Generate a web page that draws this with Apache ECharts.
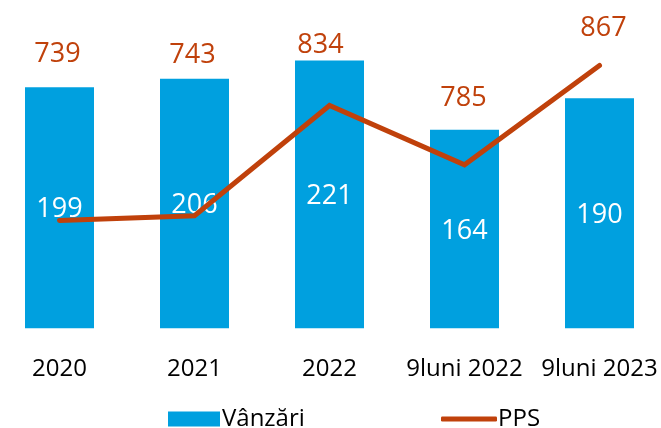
<!DOCTYPE html>
<html>
<head>
<meta charset="utf-8">
<script src="https://cdn.jsdelivr.net/npm/echarts@6/dist/echarts.min.js"></script>
<style>
  html, body { margin: 0; padding: 0; background: #fff; overflow: hidden; }
  /* the Excel plot area runs a few px past both edges of the picture */
  #chart { width: 675px; height: 428px; margin-left: -8px; }
</style>
</head>
<body>
<div id="chart"></div>
<script>
// data
const categories = ['2020', '2021', '2022', '9luni 2022', '9luni 2023']
const vanzari = [199, 206, 221, 164, 190]
const pps = [739, 743, 834, 785, 867]

// PPS labels were dragged around by hand in the original, so nudge each one
const ppsLabelOffsets = [[-2, -166], [-2, -160], [-9, -60], [-1, -66], [4, -37]]

const blue = '#00A0DF'
const rust = '#C0410B'
const font = 'Open Sans'

let myChart = echarts.init(document.getElementById('chart'))
myChart.setOption({
  animation: false,
  textStyle: { fontFamily: font },
  grid: {
    left: 0,
    right: 0,
    top: 25.5,
    bottom: 99.7,
    containLabel: false
  },
  legend: [
    {
      data: ['Vânzări'],
      left: 171,
      top: 402,
      itemWidth: 52,
      itemHeight: 15,
      icon: 'rect',
      textStyle: { fontSize: 24, color: '#000', fontFamily: font, padding: [0, 0, 0, -3] }
    },
    {
      data: ['PPS'],
      left: 444,
      top: 402,
      itemWidth: 56,
      itemHeight: 5,
      icon: 'roundRect',
      itemStyle: { color: rust },
      textStyle: { fontSize: 24, color: '#000', fontFamily: font, padding: [0, 0, 0, -4] }
    }
  ],
  xAxis: {
    type: 'category',
    data: categories,
    axisLine: { show: false },
    axisTick: { show: false },
    axisLabel: {
      color: '#000',
      fontSize: 24,
      fontFamily: font,
      margin: 29,
      interval: 0
    },
    splitLine: { show: false }
  },
  yAxis: [
    { type: 'value', min: 0, max: 250, show: false },
    { type: 'value', min: 650, max: 900, show: false }
  ],
  series: [
    {
      name: 'Vânzări',
      type: 'bar',
      data: vanzari,
      barWidth: 69,
      itemStyle: { color: blue },
      label: {
        show: true,
        position: 'inside',
        color: '#fff',
        fontSize: 27,
        fontFamily: font,
        offset: [0, 2]
      },
      z: 2
    },
    {
      name: 'PPS',
      type: 'line',
      yAxisIndex: 1,
      data: pps.map((v, i) => ({
        value: v,
        label: { offset: ppsLabelOffsets[i] }
      })),
      symbol: 'circle',
      symbolSize: 1,
      showSymbol: true,
      itemStyle: { color: rust },
      lineStyle: { color: rust, width: 5, cap: 'round', join: 'miter' },
      label: {
        show: true,
        position: 'inside',
        color: rust,
        fontSize: 27,
        fontFamily: font
      },
      z: 3
    }
  ]
})
</script>
</body>
</html>
